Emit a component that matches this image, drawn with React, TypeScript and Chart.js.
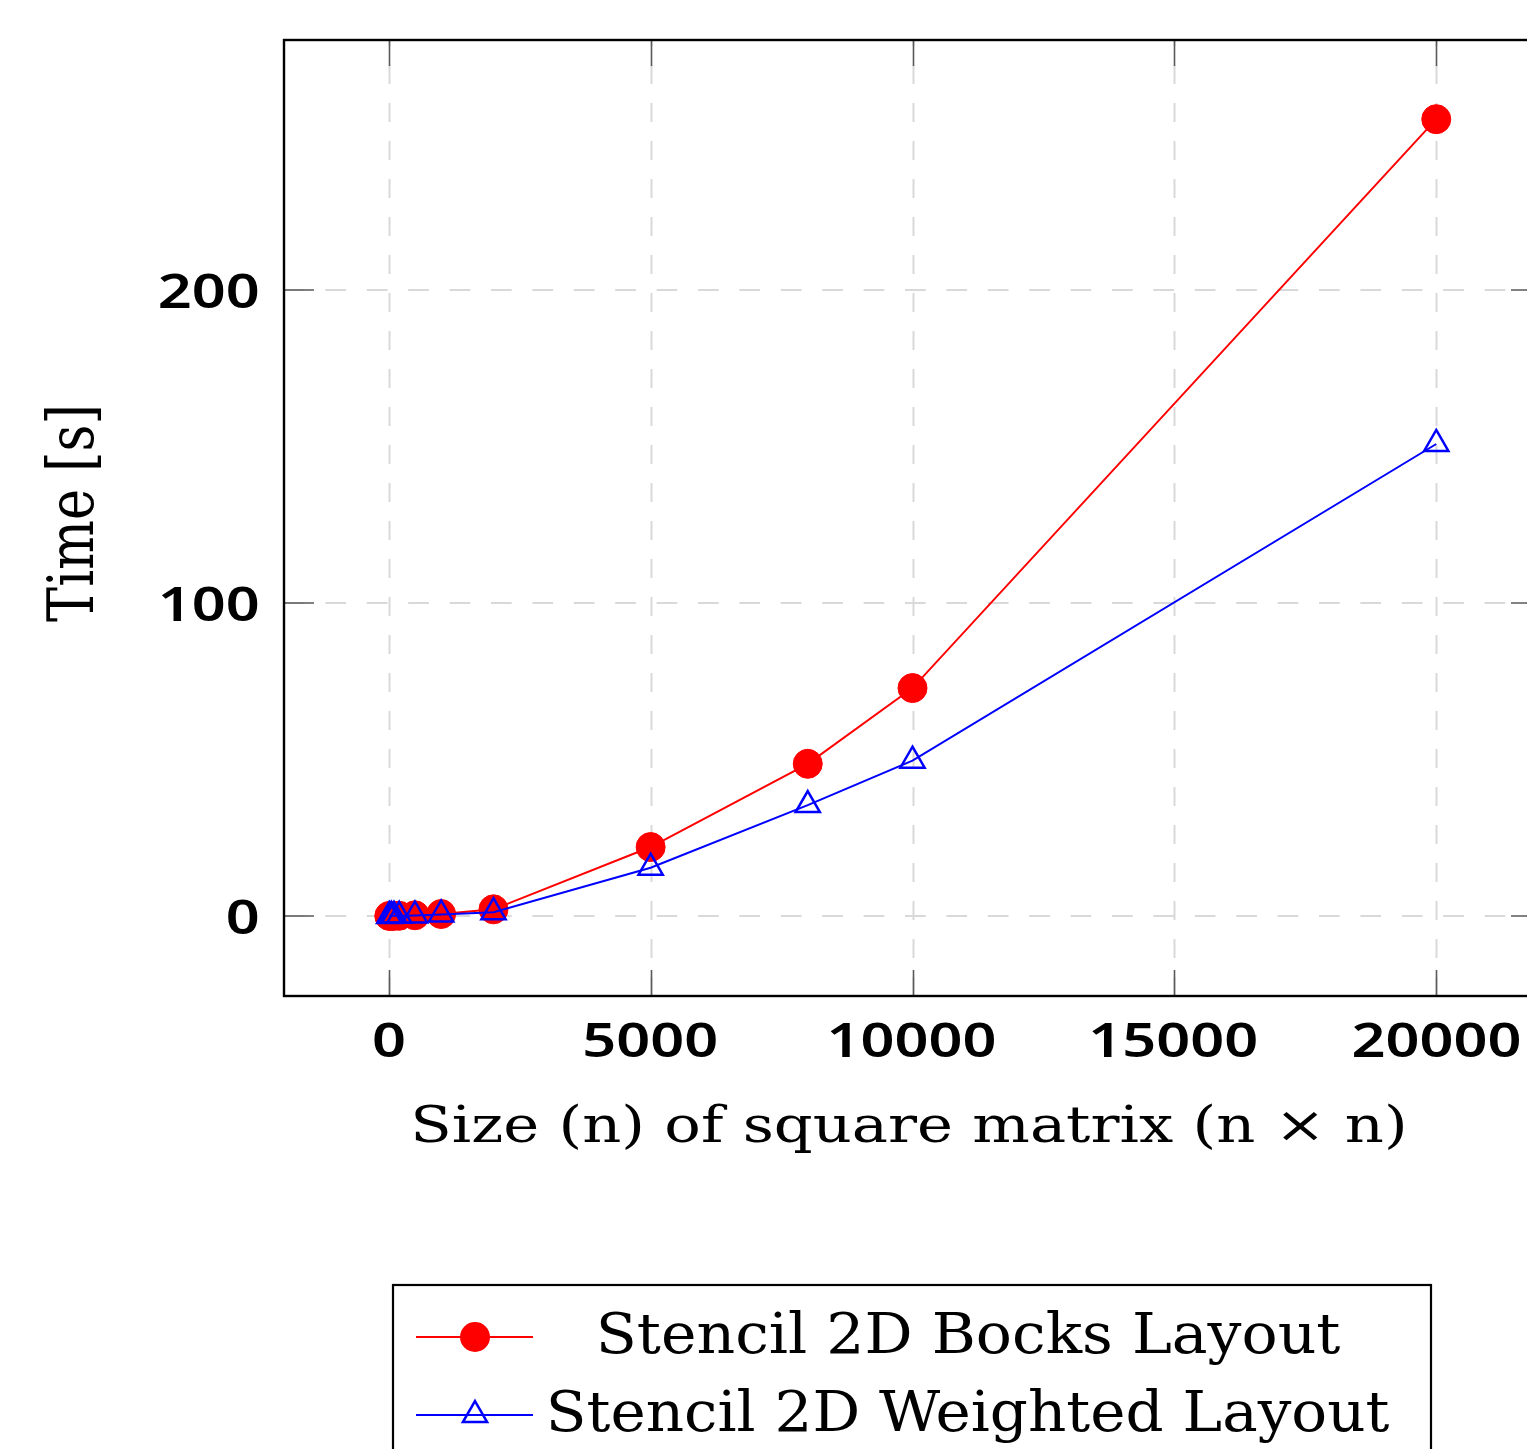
import React, { useEffect, useRef } from 'react';
import { Chart, registerables } from 'chart.js';

Chart.register(...registerables);

// ---- data ----
const SIZES = [10, 50, 100, 200, 500, 1000, 2000, 5000, 8000, 10000, 20000];
const BLOCKS_TIME = [0.001, 0.005, 0.01, 0.04, 0.2, 0.6, 2.1, 22.0, 48.6, 72.8, 254.6];
const WEIGHTED_TIME = [0.001, 0.005, 0.01, 0.03, 0.15, 0.45, 1.2, 15.4, 35.4, 49.6, 150.8];
const X_TICKS = [0, 5000, 10000, 15000, 20000];
const Y_TICKS = [0, 100, 200];
const SERIES_LABELS = ['Stencil 2D Bocks Layout', 'Stencil 2D Weighted Layout'];
const X_TITLE = 'Size (n) of square matrix (n \u00d7 n)';
const Y_TITLE = 'Time [s]';

const CW = 1600;
const CH = 1449;
const SERIF = '"DejaVu Serif", serif';
const SANS_BOLD = '600 46px "Noto Sans", "Liberation Sans", sans-serif';

function drawFitted(
  ctx: CanvasRenderingContext2D,
  text: string,
  font: string,
  left: number,
  right: number,
  baseline: number,
  capH: number
) {
  ctx.save();
  ctx.font = font;
  ctx.textAlign = 'left';
  ctx.textBaseline = 'alphabetic';
  const m = ctx.measureText(text);
  const inkW = m.actualBoundingBoxLeft + m.actualBoundingBoxRight;
  const hm = ctx.measureText('H');
  const sx = (right - left) / inkW;
  const sy = capH / hm.actualBoundingBoxAscent;
  ctx.translate(left, baseline);
  ctx.scale(sx, sy);
  ctx.fillStyle = '#000';
  ctx.fillText(text, m.actualBoundingBoxLeft, 0);
  ctx.restore();
}

const framePlugin = {
  id: 'pgfFrame',
  beforeDatasetsDraw(chart: any) {
    const ctx: CanvasRenderingContext2D = chart.ctx;
    const { left, right, top, bottom } = chart.chartArea;
    const xs = chart.scales.x;
    const ys = chart.scales.y;
    ctx.save();
    ctx.strokeStyle = '#d9d9d9';
    ctx.lineWidth = 2;
    ctx.setLineDash([19, 19]);
    xs.ticks.forEach((t: any) => {
      const px = Math.round(xs.getPixelForValue(t.value)) + 0.5;
      ctx.beginPath();
      ctx.moveTo(px, bottom);
      ctx.lineTo(px, top);
      ctx.stroke();
    });
    ctx.setLineDash([20.7, 20.7]);
    ys.ticks.forEach((t: any) => {
      const py = Math.round(ys.getPixelForValue(t.value));
      ctx.beginPath();
      ctx.moveTo(left, py);
      ctx.lineTo(right, py);
      ctx.stroke();
    });
    ctx.restore();
  },
  afterDatasetsDraw(chart: any) {
    const ctx: CanvasRenderingContext2D = chart.ctx;
    const { left, right, top, bottom } = chart.chartArea;
    const xs = chart.scales.x;
    const ys = chart.scales.y;
    ctx.save();
    // inward tick marks
    ctx.strokeStyle = '#5a5a5a';
    ctx.lineWidth = 1.6;
    ctx.setLineDash([]);
    xs.ticks.forEach((t: any) => {
      const px = Math.round(xs.getPixelForValue(t.value)) + 0.5;
      ctx.beginPath();
      ctx.moveTo(px, bottom);
      ctx.lineTo(px, bottom - 26);
      ctx.moveTo(px, top);
      ctx.lineTo(px, top + 26);
      ctx.stroke();
    });
    ys.ticks.forEach((t: any) => {
      const py = Math.round(ys.getPixelForValue(t.value));
      ctx.beginPath();
      ctx.moveTo(left, py);
      ctx.lineTo(left + 30, py);
      ctx.moveTo(right, py);
      ctx.lineTo(right - 30, py);
      ctx.stroke();
    });
    // frame
    ctx.strokeStyle = '#000';
    ctx.lineWidth = 2.4;
    ctx.strokeRect(left, top, right - left, bottom - top);

    // tick labels
    ctx.font = SANS_BOLD;
    ctx.textAlign = 'left';
    ctx.textBaseline = 'alphabetic';
    ctx.fillStyle = '#000';
    const ref = ctx.measureText('20000');
    const refW = ref.actualBoundingBoxLeft + ref.actualBoundingBoxRight;
    const sx = 167 / refW;
    const sy = 35 / ref.actualBoundingBoxAscent;
    xs.ticks.forEach((t: any) => {
      const label = String(t.value);
      const m = ctx.measureText(label);
      const inkW = (m.actualBoundingBoxLeft + m.actualBoundingBoxRight) * sx;
      const cx = xs.getPixelForValue(t.value);
      ctx.save();
      ctx.translate(cx - inkW / 2, 1057);
      ctx.scale(sx, sy);
      ctx.fillText(label, m.actualBoundingBoxLeft, 0);
      ctx.restore();
    });
    ys.ticks.forEach((t: any) => {
      const label = String(t.value);
      const m = ctx.measureText(label);
      const inkW = (m.actualBoundingBoxLeft + m.actualBoundingBoxRight) * sx;
      const cy = ys.getPixelForValue(t.value);
      ctx.save();
      ctx.translate(258 - inkW, cy + 18);
      ctx.scale(sx, sy);
      ctx.fillText(label, m.actualBoundingBoxLeft, 0);
      ctx.restore();
    });

    // axis titles
    drawFitted(ctx, X_TITLE, `51px ${SERIF}`, 415, 1403, 1142, 37);
    ctx.save();
    ctx.translate(93, 622);
    ctx.rotate(-Math.PI / 2);
    drawFitted(ctx, Y_TITLE, `51px ${SERIF}`, 0, 214, 0, 46);
    ctx.restore();

    // legend
    ctx.strokeStyle = '#000';
    ctx.lineWidth = 2.2;
    ctx.strokeRect(393, 1285, 1038, 220);
    const rows = [
      { y: 1337, color: '#ff0000', marker: 'circle', left: 600, right: 1341, base: 1353 },
      { y: 1415, color: '#0000ff', marker: 'triangle', left: 550, right: 1390, base: 1431 },
    ];
    rows.forEach((r, i) => {
      ctx.strokeStyle = r.color;
      ctx.lineWidth = 2;
      ctx.beginPath();
      ctx.moveTo(416, r.y);
      ctx.lineTo(533, r.y);
      ctx.stroke();
      if (r.marker === 'circle') {
        ctx.fillStyle = r.color;
        ctx.beginPath();
        ctx.arc(475, r.y, 15, 0, Math.PI * 2);
        ctx.fill();
      } else {
        const rad = 14;
        ctx.lineWidth = 2.5;
        ctx.beginPath();
        ctx.moveTo(475, r.y - rad);
        ctx.lineTo(475 + Math.sin((2 * Math.PI) / 3) * rad, r.y + rad / 2);
        ctx.lineTo(475 - Math.sin((2 * Math.PI) / 3) * rad, r.y + rad / 2);
        ctx.closePath();
        ctx.stroke();
      }
      drawFitted(ctx, SERIES_LABELS[i], `56px ${SERIF}`, r.left, r.right, r.base, 41);
    });
    ctx.restore();
  },
};

export default function App() {
  const canvasRef = useRef<HTMLCanvasElement | null>(null);

  useEffect(() => {
    if (!canvasRef.current) return;
    const chart = new Chart(canvasRef.current, {
      type: 'scatter',
      data: {
        datasets: [
          {
            label: SERIES_LABELS[0],
            data: SIZES.map((x, i) => ({ x, y: BLOCKS_TIME[i] })),
            showLine: true,
            borderColor: '#ff0000',
            backgroundColor: '#ff0000',
            borderWidth: 2,
            pointStyle: 'circle',
            pointRadius: 14.5,
            pointBorderWidth: 1,
            pointBackgroundColor: '#ff0000',
            pointBorderColor: '#ff0000',
            order: 2,
          },
          {
            label: SERIES_LABELS[1],
            data: SIZES.map((x, i) => ({ x, y: WEIGHTED_TIME[i] })),
            showLine: true,
            borderColor: '#0000ff',
            backgroundColor: 'rgba(0,0,0,0)',
            borderWidth: 2,
            pointStyle: 'triangle',
            pointRadius: 14,
            pointBorderWidth: 2.5,
            pointBackgroundColor: 'rgba(0,0,0,0)',
            pointBorderColor: '#0000ff',
            order: 1,
          },
        ],
      },
      options: {
        responsive: false,
        devicePixelRatio: 1,
        animation: false,
        events: [],
        layout: { padding: { left: 0, top: 40, right: 59, bottom: 0 }, autoPadding: false },
        plugins: { legend: { display: false }, tooltip: { enabled: false } },
        scales: {
          x: {
            type: 'linear',
            min: -2000,
            max: 22000,
            afterBuildTicks: (ax: any) => {
              ax.ticks = X_TICKS.map((v) => ({ value: v }));
            },
            afterFit: (ax: any) => {
              ax.height = CH - 996;
            },
            grid: { display: false },
            border: { display: false },
            ticks: { display: false },
          },
          y: {
            type: 'linear',
            min: -25.6,
            max: 279.9,
            afterBuildTicks: (ax: any) => {
              ax.ticks = Y_TICKS.map((v) => ({ value: v }));
            },
            afterFit: (ax: any) => {
              ax.width = 284;
            },
            grid: { display: false },
            border: { display: false },
            ticks: { display: false },
          },
        },
      } as any,
      plugins: [framePlugin],
    });
    return () => chart.destroy();
  }, []);

  return (
    <div
      style={{
        position: 'absolute',
        left: 0,
        top: 0,
        width: 1527,
        height: 1449,
        overflow: 'hidden',
        background: '#fff',
      }}
    >
      <canvas ref={canvasRef} width={CW} height={CH} style={{ display: 'block', width: CW, height: CH }} />
    </div>
  );
}
